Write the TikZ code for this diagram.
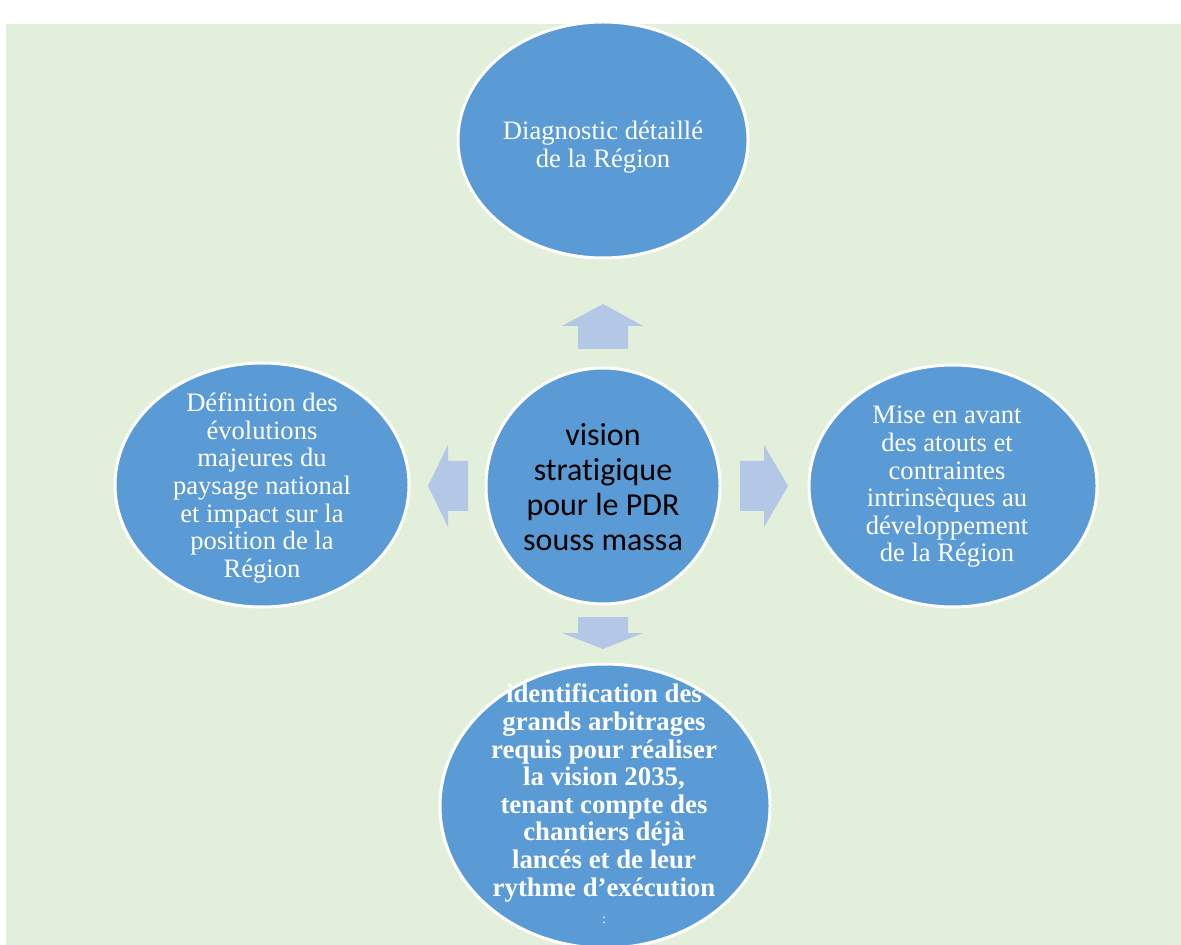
\documentclass[tikz,border=0pt]{standalone}
\usepackage{fontspec}
\setmainfont{Liberation Serif}
\newfontfamily\carlito[Ligatures=NoCommon]{Carlito}
\usetikzlibrary{shapes.geometric}
\definecolor{bggreen}{HTML}{E2EFDA}
\definecolor{bubbleblue}{HTML}{5B9BD5}
\definecolor{arrowblue}{HTML}{B4C7E7}
\begin{document}
\begin{tikzpicture}[x=0.5pt,y=-0.5pt,
	bubble/.style={draw=white,line width=1.5pt,fill=bubbleblue,ellipse,inner sep=0pt},
	txt/.style={align=center,text=white,font=\fontsize{13.3}{13.8}\selectfont},
	bigarrow/.style={fill=arrowblue}]
		\useasboundingbox (0,0) rectangle (1181,945);
		\fill[bggreen] (6,24) rectangle (1181,945);
		\begin{scope}
		\clip (6,20) rectangle (1181,945);
		% the five bubbles
		\node[bubble,minimum width=145pt,minimum height=118pt] (diag) at (603,140) {};
		\node[bubble,minimum width=117pt,minimum height=118pt] (vision) at (603,486) {};
		\node[bubble,minimum width=147pt,minimum height=122pt] (defin) at (262,485) {};
		\node[bubble,minimum width=144pt,minimum height=121pt] (atouts) at (953,486) {};
		\node[bubble,minimum width=165pt,minimum height=142pt] (arbit) at (605,806) {};
		\end{scope}
		% texts
		\node[txt] at (603,147) {Diagnostic détaillé\\de la Région};
		\node[align=center,font=\carlito\fontsize{16}{17.5}\selectfont] at (603,487)
			{vision\\stratigique\\pour le PDR\\souss massa};
		\node[txt] at (262,488) {Définition des\\évolutions\\majeures du\\paysage national\\et impact sur la\\position de la\\Région};
		\node[txt] at (947,487) {Mise en avant\\des atouts et\\contraintes\\intrinsèques au\\développement\\de la Région};
		\node[txt,font=\bfseries\fontsize{13.4}{13.8}\selectfont] at (604,804)
			{identification des\\grands arbitrages\\requis pour réaliser\\la vision 2035,\\tenant compte des\\chantiers déjà\\lancés et de leur\\rythme d’exécution\\{\mdseries\fontsize{7}{8}\selectfont :}};
		% block arrows
		\fill[bigarrow] (578,349) -- (578,326) -- (562,326) -- (603,304) -- (643,326) -- (628,326) -- (628,349) -- cycle;
		\fill[bigarrow] (578,617) -- (628,617) -- (628,633) -- (643,633) -- (603,649) -- (562,633) -- (578,633) -- cycle;
		\fill[bigarrow] (468,461) -- (448,461) -- (448,445) -- (428,486) -- (448,527) -- (448,511) -- (468,511) -- cycle;
		\fill[bigarrow] (740,461) -- (764,461) -- (764,445) -- (788,486) -- (764,527) -- (764,511) -- (740,511) -- cycle;
\end{tikzpicture}
\end{document}
